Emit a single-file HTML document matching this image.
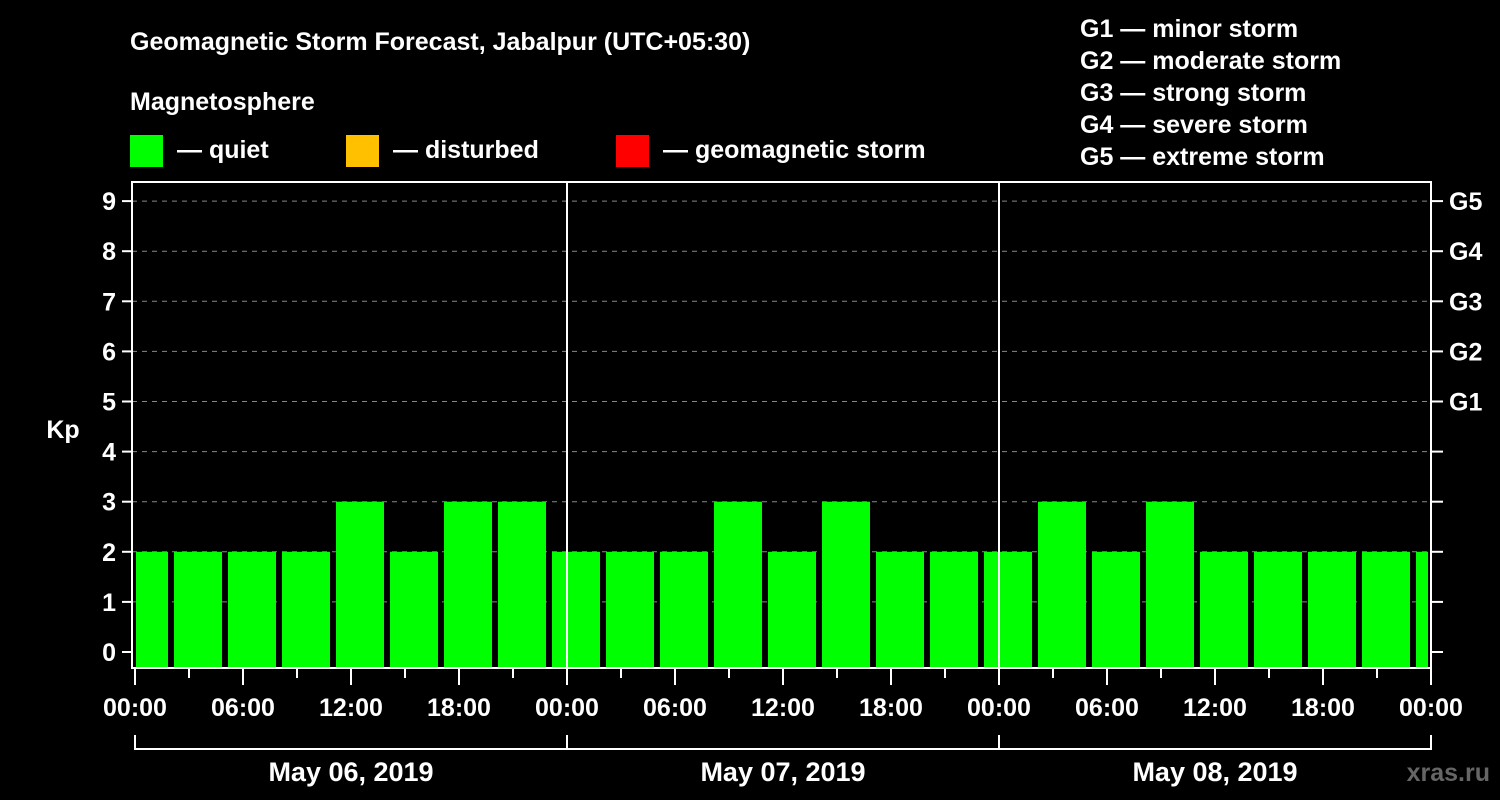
<!DOCTYPE html>
<html><head><meta charset="utf-8"><style>
html,body{margin:0;padding:0;background:#000;}
svg{display:block;font-family:"Liberation Sans",Arial,sans-serif;font-weight:bold;}
</style></head><body>
<svg id="chart" width="1500" height="800" viewBox="0 0 1500 800">
<rect width="1500" height="800" fill="#000"/>
<text x="130" y="50" fill="#fff" font-size="25">Geomagnetic Storm Forecast, Jabalpur (UTC+05:30)</text>
<text x="130" y="110" fill="#fff" font-size="25">Magnetosphere</text>
<g><rect x="130" y="135" width="33" height="32" fill="#00ff00"/><text x="177" y="158" fill="#fff" font-size="25">— quiet</text></g>
<g><rect x="346" y="135" width="33" height="32" fill="#ffc000"/><text x="393" y="158" fill="#fff" font-size="25">— disturbed</text></g>
<g><rect x="616" y="135" width="33" height="32" fill="#ff0000"/><text x="663" y="158" fill="#fff" font-size="25">— geomagnetic storm</text></g>
<g fill="#fff" font-size="25">
<text x="1080" y="37">G1 — minor storm</text>
<text x="1080" y="69">G2 — moderate storm</text>
<text x="1080" y="101">G3 — strong storm</text>
<text x="1080" y="133">G4 — severe storm</text>
<text x="1080" y="165">G5 — extreme storm</text>
</g>
<text x="63" y="438" fill="#fff" font-size="25" text-anchor="middle">Kp</text>
<g id="grid"></g><g id="bars"></g><g id="axes"></g>
<text x="1490" y="781" fill="#666" font-size="25" text-anchor="end">xras.ru</text>
</svg>
<script>
const kpValues = [2,2,2,2,3,2,3,3,2,2,2,3,2,3,2,2,2,3,2,3,2,2,2,2,2];
const yTicks = [0,1,2,3,4,5,6,7,8,9];
const gLabels = ["G1","G2","G3","G4","G5"];
const gLevels = [5,6,7,8,9];
const xTickLabels = ["00:00","06:00","12:00","18:00","00:00","06:00","12:00","18:00","00:00","06:00","12:00","18:00","00:00"];
const dayLabels = ["May 06, 2019","May 07, 2019","May 08, 2019"];

const NS="http://www.w3.org/2000/svg";
const X0=135, PX_H=18, LEFT=132, RIGHT=1431, TOP=182, BOTTOM=668;
const xs=h=>X0+h*PX_H;
const ys=v=>652-v*50.1;
function mk(tag,attrs,parent){const e=document.createElementNS(NS,tag);for(const k in attrs)e.setAttribute(k,attrs[k]);parent.appendChild(e);return e;}
const grid=document.getElementById('grid'),bars=document.getElementById('bars'),axes=document.getElementById('axes');

yTicks.forEach(v=>{
  if(v>0){const l=mk('line',{x1:LEFT,x2:RIGHT,y1:ys(v),y2:ys(v),stroke:'#888','stroke-dasharray':'5,5','stroke-width':1},grid);
  
  }
  const t=mk('line',{x1:122,x2:LEFT,y1:ys(v),y2:ys(v),stroke:'#fff','stroke-width':2},axes);
  
  
  const tr=mk('line',{x1:RIGHT,x2:1443,y1:ys(v),y2:ys(v),stroke:'#fff','stroke-width':2},axes);
  
  
  const lb=mk('text',{x:116,y:ys(v)+9,fill:'#fff','font-size':25,'text-anchor':'end'},axes);
  lb.textContent=v;
  
  
});
gLabels.forEach((g,i)=>{
  const t=mk('text',{x:1449,y:ys(gLevels[i])+9,fill:'#fff','font-size':25},axes);
  t.textContent=g;
  
  
});
kpValues.forEach((v,i)=>{
  let x1=xs(3*i)-15, x2=x1+48;
  x1=Math.max(x1,136); x2=Math.min(x2,1428);
  const col=v>=5?'#ff0000':(v>=4?'#ffc000':'#00ff00');
  const r=mk('rect',{x:x1,y:ys(v),width:x2-x1,height:BOTTOM-ys(v),fill:col},bars);
  
  
});
// day separators
[1,2].forEach(d=>{
  const l=mk('line',{x1:xs(24*d),x2:xs(24*d),y1:TOP,y2:BOTTOM,stroke:'#fff','stroke-width':2},axes);
  
  
});
const fr=mk('rect',{x:LEFT,y:TOP,width:RIGHT-LEFT,height:BOTTOM-TOP,fill:'none',stroke:'#fff','stroke-width':2},axes);


for(let h=0;h<=72;h+=3){
  const major=h%6===0;
  const t=mk('line',{x1:xs(h),x2:xs(h),y1:BOTTOM,y2:major?685:678,stroke:'#fff','stroke-width':2},axes);
  
  
}
xTickLabels.forEach((s,i)=>{
  const t=mk('text',{x:xs(6*i),y:716,fill:'#fff','font-size':25,'text-anchor':'middle'},axes);
  t.textContent=s;
  
  
});
const br=mk('path',{d:`M${xs(0)},735V749H${xs(72)}V735M${xs(24)},735V749M${xs(48)},735V749`,stroke:'#fff','stroke-width':2,fill:'none'},axes);


dayLabels.forEach((s,i)=>{
  const t=mk('text',{x:xs(24*i+12),y:781,fill:'#fff','font-size':27,'text-anchor':'middle'},axes);
  t.textContent=s;
  
  
});
</script>
</body></html>
